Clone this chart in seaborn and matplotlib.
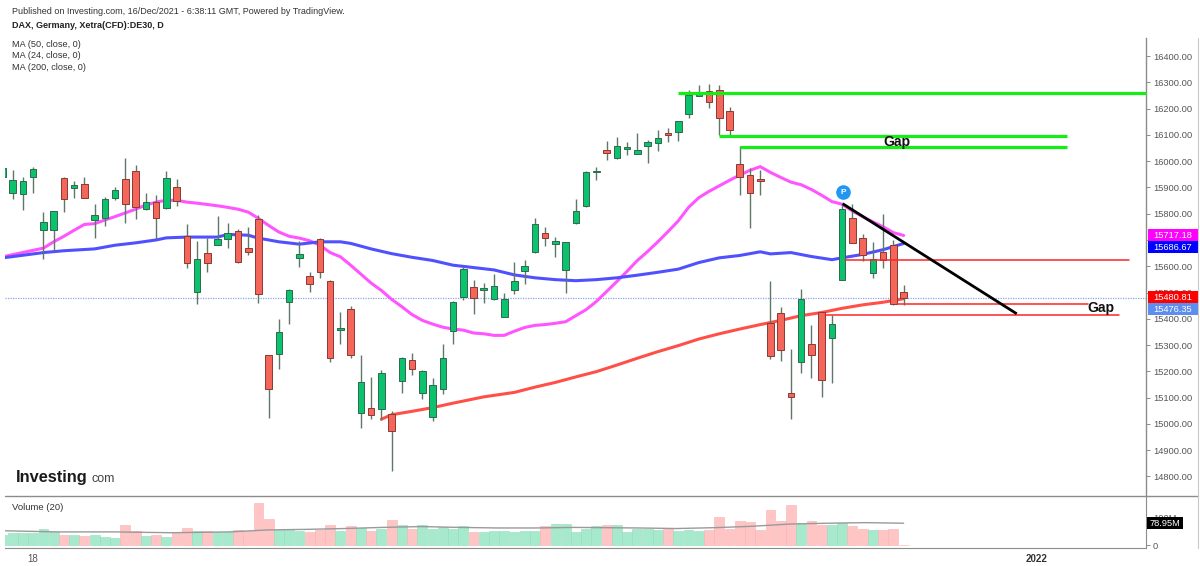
import numpy as np
import pandas as pd
import matplotlib
matplotlib.use("Agg")
import matplotlib.pyplot as plt
import matplotlib.transforms as mtransforms
from matplotlib.patches import Rectangle
import seaborn as sns

sns.set_style("white")
plt.rcParams['font.family'] = ['Liberation Sans', 'DejaVu Sans']

# ---------------- data ----------------
opens = [15940, 15877, 15875, 15938, 15737, 15737, 15935, 15899, 15914, 15776,
         15783, 15858, 15931, 15962, 15817, 15843, 15821, 15901, 15715, 15501,
         15652, 15682, 15702, 15735, 15670, 15780, 15261, 15265, 15464, 15633,
         15563, 15702, 15544, 15359, 15438, 15042, 15061, 15055, 15037, 15162,
         15245, 15117, 15025, 15131, 15353, 15482, 15520, 15511, 15474, 15408,
         15511, 15581, 15655, 15728, 15685, 15584, 15765, 15828, 15960, 16041,
         16013, 16045, 16028, 16056, 16069, 16106, 16112, 16178, 16249, 16266,
         16272, 16191, 15990, 15946, 15931, 15385, 15422, 15117, 15235, 15304,
         15424, 15326, 15549, 15785, 15707, 15574, 15655, 15682, 15501]
highs = [15988, 15968, 15940, 15977, 15807, 15809, 15940, 15924, 15939, 15837,
         15865, 15902, 16013, 15984, 15879, 15872, 15962, 15931, 15759, 15696,
         15706, 15792, 15766, 15743, 15748, 15794, 15263, 15398, 15512, 15696,
         15577, 15707, 15548, 15426, 15450, 15264, 15178, 15205, 15051, 15254,
         15271, 15206, 15176, 15304, 15466, 15597, 15548, 15536, 15570, 15499,
         15618, 15622, 15785, 15748, 15710, 15693, 15855, 15961, 15979, 16077,
         16091, 16073, 16108, 16080, 16119, 16127, 16153, 16270, 16289, 16294,
         16289, 16207, 16057, 15975, 15965, 15545, 15446, 15284, 15512, 15375,
         15426, 15416, 15837, 15836, 15724, 15691, 15798, 15700, 15527]
lows = [15933, 15855, 15814, 15879, 15628, 15659, 15806, 15861, 15858, 15707,
        15755, 15851, 15765, 15780, 15813, 15702, 15817, 15831, 15593, 15456,
        15577, 15680, 15669, 15614, 15643, 15460, 15021, 15209, 15382, 15597,
        15501, 15556, 15235, 15305, 15250, 14984, 15018, 15014, 14819, 15117,
        15186, 15096, 15011, 15113, 15306, 15471, 15419, 15460, 15470, 15405,
        15494, 15533, 15652, 15676, 15634, 15499, 15762, 15824, 15927, 16005,
        16009, 16023, 16027, 15991, 16039, 16071, 16078, 16163, 16248, 16201,
        16098, 16098, 15872, 15746, 15872, 15246, 15241, 15017, 15193, 15175,
        15103, 15154, 15547, 15687, 15621, 15555, 15595, 15452, 15454]
closes = [15974, 15927, 15924, 15971, 15769, 15809, 15855, 15909, 15861, 15796,
          15854, 15890, 15836, 15826, 15843, 15785, 15935, 15847, 15614, 15628,
          15611, 15704, 15725, 15617, 15654, 15493, 15134, 15350, 15510, 15645,
          15531, 15577, 15249, 15365, 15261, 15158, 15035, 15195, 14973, 15250,
          15208, 15202, 15147, 15250, 15464, 15590, 15478, 15518, 15525, 15477,
          15545, 15601, 15759, 15706, 15696, 15692, 15810, 15960, 15964, 16032,
          16058, 16052, 16043, 16071, 16087, 16098, 16152, 16252, 16256, 16224,
          16163, 16119, 15940, 15880, 15923, 15257, 15282, 15101, 15477, 15262,
          15169, 15381, 15817, 15689, 15643, 15628, 15625, 15456, 15480.81]
volumes_m = [36, 43, 43, 43, 60, 48, 36, 38, 33, 37,
             31, 25, 73, 52, 33, 36, 31, 43, 61, 52,
             52, 48, 48, 55, 52, 151, 93, 55, 54, 51,
             46, 55, 73, 52, 69, 62, 50, 60, 89, 73,
             57, 73, 57, 67, 58, 68, 46, 48, 52, 52,
             48, 50, 52, 69, 75, 75, 46, 57, 68, 71,
             71, 48, 57, 57, 56, 57, 50, 54, 52, 55,
             101, 60, 87, 85, 54, 127, 88, 145, 81, 88,
             74, 74, 81, 68, 57, 54, 54, 57, 0]

ma24_pos = [0.25, 4, 5, 6, 7, 8, 9, 10, 11, 12, 13, 14, 15, 16, 17, 18, 19, 20, 21, 22,
            23, 24, 25, 26, 27, 28, 29, 30, 31, 32, 33, 34, 35, 36, 37, 38, 39, 40, 41, 42,
            43, 44, 45, 46, 47, 48, 49, 50, 51, 52, 53, 54, 55, 56, 57, 58, 59, 60, 61, 62,
            63, 64, 65, 66, 67, 68, 69, 70, 71, 72, 73, 74, 75, 76, 77, 78, 79, 80, 81, 82,
            83, 84, 85, 86, 87, 88]
ma24_val = [15638, 15669, 15693, 15714, 15737, 15759, 15762, 15776, 15789, 15803,
            15817, 15833, 15844, 15851, 15851, 15844, 15840, 15835, 15830, 15824,
            15817, 15806, 15782, 15755, 15730, 15714, 15707, 15697, 15680, 15652,
            15636, 15604, 15570, 15536, 15508, 15474, 15446, 15416, 15394, 15380,
            15368, 15361, 15357, 15346, 15343, 15337, 15337, 15353, 15367, 15375,
            15378, 15383, 15389, 15412, 15435, 15466, 15504, 15542, 15581, 15622,
            15656, 15693, 15732, 15773, 15824, 15861, 15885, 15906, 15927, 15947,
            15965, 15979, 15957, 15938, 15920, 15910, 15892, 15870, 15846, 15836,
            15810, 15789, 15769, 15750, 15728, 15717.18]
ma50_pos = [0.25, 4, 6, 9, 11, 13, 15, 16, 18, 21, 22, 24, 25, 27, 29, 31, 33, 34, 36, 38,
            40, 42, 44, 46, 48, 50, 52, 54, 56, 58, 60, 62, 64, 66, 68, 70, 72, 74, 75, 77,
            79, 81, 82, 84, 86, 88]
ma50_val = [15633, 15652, 15659, 15666, 15680, 15689, 15700, 15708, 15711, 15711,
            15721, 15718, 15707, 15693, 15684, 15693, 15693, 15687, 15666, 15648,
            15634, 15622, 15604, 15595, 15586, 15567, 15556, 15549, 15545, 15549,
            15556, 15566, 15577, 15589, 15614, 15632, 15641, 15655, 15647, 15652,
            15637, 15625, 15632, 15645, 15663, 15686.67]
ma200_pos = [37, 38, 40, 42, 44, 47, 50, 52, 54, 56, 58, 60, 62, 64, 66, 68, 70, 72, 74, 76,
             78, 80, 82, 84, 86, 88]
ma200_val = [15018, 15035, 15048, 15062, 15079, 15103, 15120, 15140, 15158, 15179,
             15199, 15224, 15250, 15275, 15298, 15323, 15343, 15361, 15378, 15394,
             15412, 15424, 15440, 15453, 15463, 15476.35]
volma_pos = [0.2, 5.3, 10.9, 16.5, 22.2, 25.9, 29.6, 33.4, 37.1, 40.9, 44.6, 48.4, 52.1,
             55.8, 62.1, 65.8, 69.5, 73.2, 76.9, 80.6, 84.3, 88]
volma_val = [52, 48, 48, 45, 48, 55, 57, 60, 64, 67, 64, 62, 62, 64, 62, 60, 63, 68, 76,
             79, 81, 78.95]

price_ticks = list(range(14800, 16401, 100))
hidden_price_ticks = [15700]          # covered by the MA value boxes in the picture
date_ticks = [3, 13, 19, 25, 35, 41, 47, 56, 62, 68, 78, 84, 90, 101, 107]
date_labels = ['18', '', '', '', '', '', '', '', '', '', '', '', '', '2022', '']

# drawn levels / annotations
green_levels = [(16261, 66.0, 111.7), (16097, 70.0, 104.0), (16054, 72.0, 104.0)]
red_levels = [(15622, 82.3, 110.0), (15457, 87.4, 106.0), (15416, 80.3, 109.0)]
trend_x = [82.05, 99.05]
trend_y = [15838, 15419]
gap_labels = [(87.3, 16072), (107.3, 15441)]
last_price = 15480.81

# ---------------- figure ----------------
W, H = 1200, 566
fig = plt.figure(figsize=(W / 100, H / 100), dpi=100)
fig.patch.set_facecolor('white')

def fx(px):
    return px / W

def fy(py):
    return 1 - py / H

left_px, right_px = 5, 1146
top_px, mid_px, bot_px = 38, 496.3, 548.0
ax = fig.add_axes([fx(left_px), fy(mid_px), fx(right_px - left_px), (mid_px - top_px) / H])
axv = fig.add_axes([fx(left_px), fy(bot_px), fx(right_px - left_px), (bot_px - mid_px) / H])

xlim = (0.248, 111.67)
ax.set_xlim(*xlim)
ax.set_ylim(14724.6, 16468.5)
axv.set_xlim(*xlim)
axv.set_ylim(-9.4, 174.9)

n = len(closes)
idx = np.arange(n)
o = np.array(opens, float); c = np.array(closes, float)
h = np.array(highs, float); l = np.array(lows, float)
up = c >= o

GREEN = '#0dc26f'; GREEN_E = '#2e6a4b'
RED = '#f4665a'; RED_E = '#8a3a33'
WICK = '#5d7869'

# moving averages (seaborn)
sns.lineplot(x=ma24_pos, y=ma24_val, ax=ax, color='#ff55ff', linewidth=2.2, legend=False, zorder=2)
sns.lineplot(x=ma50_pos, y=ma50_val, ax=ax, color='#5050ff', linewidth=2.2, legend=False, zorder=2)
sns.lineplot(x=ma200_pos, y=ma200_val, ax=ax, color='#ff5048', linewidth=2.2, legend=False, zorder=2)

# last price dotted line
ax.axhline(last_price, color='#8aa6ea', lw=0.9, ls=(0, (1, 1)), zorder=1)

# candles
ax.vlines(idx, l, h, color=WICK, lw=1.0, zorder=3)
body_lo = np.minimum(o, c)
body_h = np.maximum(np.abs(c - o), 4)
ax.bar(idx, body_h, bottom=body_lo, width=0.64,
       color=np.where(up, GREEN, RED), edgecolor=np.where(up, GREEN_E, RED_E),
       linewidth=0.7, zorder=3.5)

# drawings
for v, x0, x1 in green_levels:
    ax.plot([x0, x1], [v, v], color='#14ee14', lw=2.3, solid_capstyle='butt', zorder=5, clip_on=False)
for v, x0, x1 in red_levels:
    ax.plot([x0, x1], [v, v], color='#ff2424', lw=1.1, zorder=5, clip_on=False)
ax.plot(trend_x, trend_y, color='black', lw=2.0, zorder=5, solid_capstyle='butt')
for gx, gy in gap_labels:
    ax.text(gx, gy, 'Gap', fontsize=10, fontweight='bold', color='#111', ha='center', va='center', zorder=6)
ax.plot([82.1], [15882], 'o', ms=9.5, color='#2196f3', zorder=6)
ax.text(82.1, 15882, 'P', fontsize=6, fontweight='bold', color='white', ha='center', va='center', zorder=7)

# price axis style
for s in ['top', 'left', 'bottom']:
    ax.spines[s].set_visible(False)
ax.spines['right'].set_color('#8c8c8c')
ax.spines['right'].set_linewidth(1.0)
ax.set_xticks([])
ax.yaxis.tick_right()
ax.set_yticks(price_ticks)
ax.set_yticklabels(['' if v in hidden_price_ticks else f"{v:.2f}" for v in price_ticks])
ax.tick_params(axis='y', labelsize=6.7, labelcolor='#555555', color='#8c8c8c', length=3, width=0.7, pad=2)
ax.set_xlabel(''); ax.set_ylabel('')

# price labels on the axis
trans = mtransforms.blended_transform_factory(fig.transFigure, ax.transData)
box_h = 12 / 0.2628
for val, txt, col in [(15718, '15717.18', '#ff00ff'), (15672, '15686.67', '#0000ff'),
                      (15482, '15480.81', '#ff0000'), (15436, '15476.35', '#5e8df0')]:
    ax.add_patch(Rectangle((fx(1148), val - box_h / 2), fx(50), box_h, transform=trans,
                           facecolor=col, edgecolor='none', clip_on=False, zorder=10))
    ax.text(fx(1173), val, txt, transform=trans, color='white', fontsize=6.7,
            ha='center', va='center', zorder=11, clip_on=False)

# volume
vol = np.array(volumes_m, float)
axv.bar(idx, vol, width=0.96, color=np.where(up, '#a6e9cc', '#ffc4c4'),
        edgecolor=np.where(up, '#93dcbc', '#f7b3b3'), linewidth=0.4, zorder=2)
sns.lineplot(x=volma_pos, y=volma_val, ax=axv, color='#9a9a9a', linewidth=1.0, legend=False, zorder=3)
for s in ['top', 'left']:
    axv.spines[s].set_visible(False)
axv.spines['right'].set_color('#8c8c8c')
axv.spines['bottom'].set_color('#8c8c8c')
axv.yaxis.tick_right()
axv.set_yticks([0, 100])
axv.set_yticklabels(['0', '100M'])
axv.tick_params(axis='y', labelsize=6.7, labelcolor='#555555', color='#8c8c8c', length=3, width=0.7, pad=2)
axv.set_xticks(date_ticks)
axv.set_xticklabels(date_labels)
axv.tick_params(axis='x', labelsize=7, labelcolor='#555555', color='#8c8c8c', length=3, width=0.7, pad=1,
                direction='out')
for lab in axv.get_xticklabels():
    if lab.get_text() == '2022':
        lab.set_fontweight('bold')
        lab.set_color('#333333')
axv.set_xlabel(''); axv.set_ylabel('')
transv = mtransforms.blended_transform_factory(fig.transFigure, axv.transData)
vb_h = 12 / 0.287
axv.add_patch(Rectangle((fx(1147), 78.95 - vb_h / 2), fx(36), vb_h, transform=transv,
                        facecolor='black', edgecolor='none', clip_on=False, zorder=10))
axv.text(fx(1165), 78.95, '78.95M', transform=transv, color='white', fontsize=6.7,
         ha='center', va='center', zorder=11, clip_on=False)

# frame lines
fig.add_artist(plt.Line2D([fx(5), fx(1198)], [fy(mid_px), fy(mid_px)], color='#8c8c8c', lw=1.0))
fig.add_artist(plt.Line2D([fx(1198), fx(1198)], [fy(top_px), fy(bot_px)], color='#c8c8c8', lw=0.8))

# texts
fig.text(fx(11.5), fy(11), 'Published on Investing.com, 16/Dec/2021 - 6:38:11 GMT, Powered by TradingView.',
         fontsize=6.5, color='#333333', va='center')
fig.text(fx(11.5), fy(25.5), 'DAX, Germany, Xetra(CFD):DE30, D', fontsize=6.5, fontweight='bold',
         color='#222222', va='center')
for yy, t in [(44.5, 'MA (50, close, 0)'), (56, 'MA (24, close, 0)'), (67.5, 'MA (200, close, 0)')]:
    fig.text(fx(12), fy(yy), t, fontsize=6.6, color='#333333', va='center')
fig.text(fx(15.5), fy(482), 'Investing', fontsize=11.8, fontweight='bold', color='#1b1b1b', va='baseline')
fig.text(fx(91), fy(482), 'com', fontsize=9, color='#444444', va='baseline')
fig.text(fx(12), fy(507), 'Volume (20)', fontsize=6.8, color='#333333', va='center')

fig.savefig('out.png', dpi=100, facecolor='white')
